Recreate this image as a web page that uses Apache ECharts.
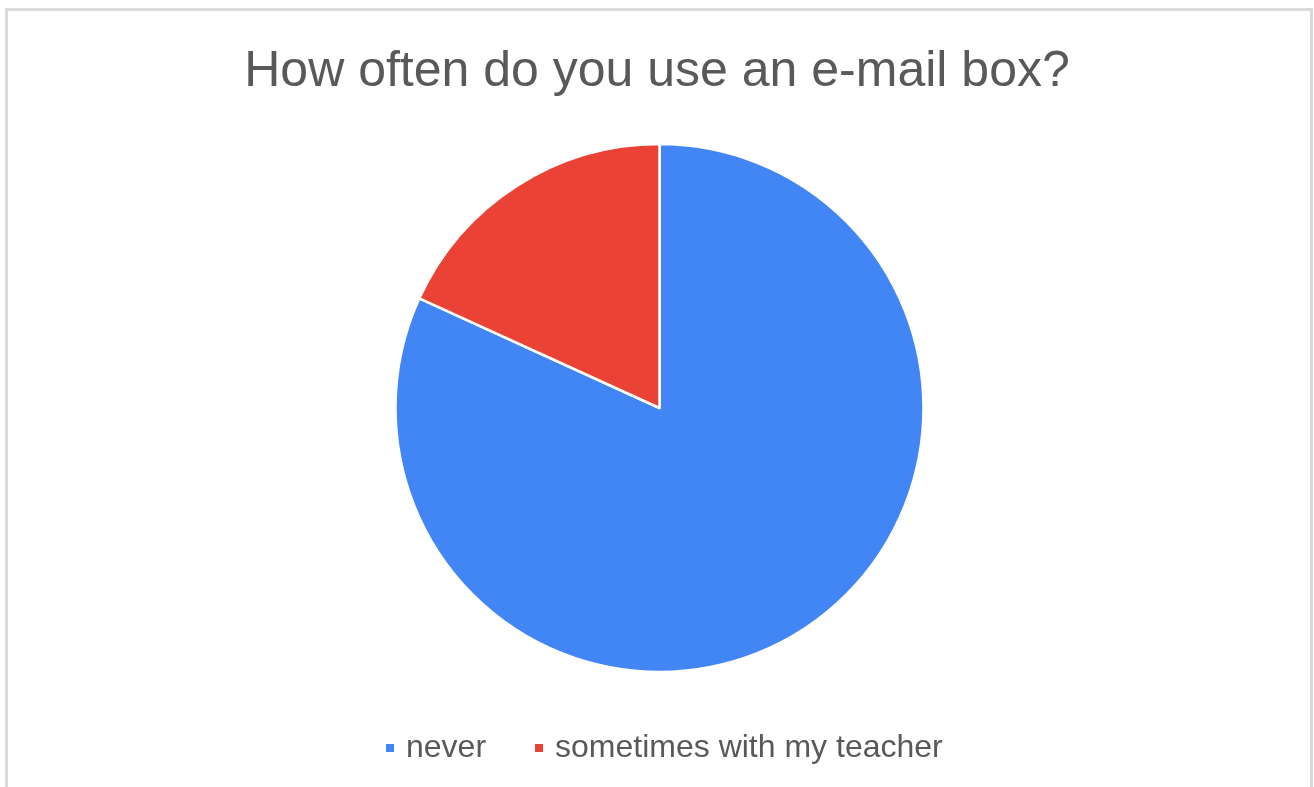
<!DOCTYPE html>
<html>
<head>
<meta charset="utf-8">
<script src="https://cdn.jsdelivr.net/npm/echarts@6/dist/echarts.min.js"></script>
<style>
  html, body { margin: 0; padding: 0; background: #fff; }
  #chart { width: 1314px; height: 787px; }
  #frame {
    position: absolute; left: 5px; top: 8px; width: 1302px; height: 800px;
    border: 3px solid #dadada; border-bottom: none; pointer-events: none;
  }
</style>
</head>
<body>
<div id="chart"></div>
<div id="frame"></div>
<script>
// Survey answers: how often pupils use an e-mail box
const titleText = 'How often do you use an e-mail box?';
const categories = ['never', 'sometimes with my teacher'];
const counts = [18, 4];
const colors = ['#4285f4', '#ea4335'];

const chart = echarts.init(document.getElementById('chart'), null, { renderer: 'canvas' });

chart.setOption({
  animation: false,
  color: colors,
  title: {
    text: titleText,
    left: 'center',
    top: 42,
    textStyle: {
      fontFamily: 'Liberation Sans, Arial, sans-serif',
      fontSize: 50,
      fontWeight: 'normal',
      color: '#595959'
    }
  },
  legend: {
    data: categories,
    top: 727,
    left: 379,
    icon: 'rect',
    itemWidth: 10,
    itemHeight: 10,
    itemGap: 47,
    textStyle: {
      fontFamily: 'Liberation Sans, Arial, sans-serif',
      fontSize: 32,
      color: '#595959',
      padding: [0, 0, 0, 6]
    }
  },
  series: [{
    type: 'pie',
    center: [659.5, 408],
    radius: [0, 264],
    startAngle: 90,
    clockwise: true,
    label: { show: false },
    labelLine: { show: false },
    itemStyle: { borderColor: '#ffffff', borderWidth: 2.5 },
    data: categories.map((name, i) => ({ name, value: counts[i] }))
  }]
});
</script>
</body>
</html>
